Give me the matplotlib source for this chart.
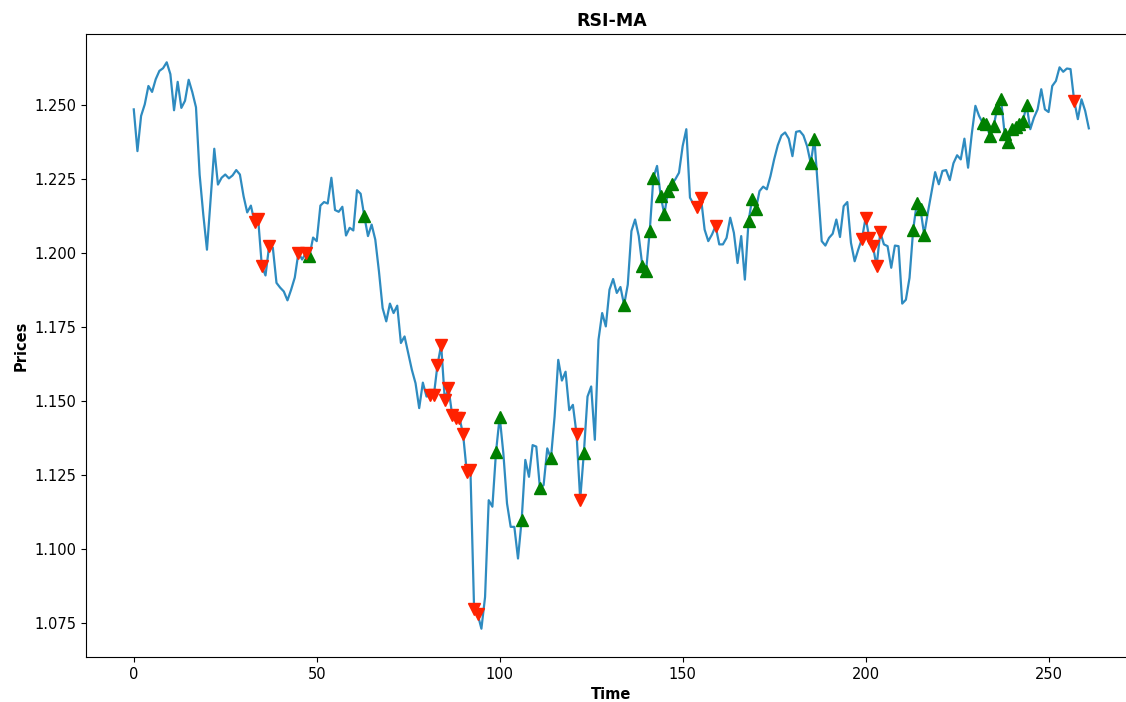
import matplotlib
matplotlib.use("Agg")
import matplotlib.pyplot as plt
import numpy as np

prices = [
    1.2486, 1.2345, 1.2464, 1.2503, 1.2565, 1.2545, 1.2588, 1.2616, 1.2625, 1.2645,  # 0-9
    1.2605, 1.2483, 1.2579, 1.2491, 1.2515, 1.2586, 1.2544, 1.2493, 1.2265, 1.2130,  # 10-19
    1.2012, 1.2182, 1.2353, 1.2232, 1.2255, 1.2266, 1.2253, 1.2263, 1.2281, 1.2266,  # 20-29
    1.2193, 1.2138, 1.2161, 1.2105, 1.2115, 1.1956, 1.1925, 1.2026, 1.2019, 1.1900,  # 30-39
    1.1884, 1.1871, 1.1841, 1.1877, 1.1918, 1.2002, 1.1979, 1.2000, 1.1990, 1.2053,  # 40-49
    1.2041, 1.2161, 1.2173, 1.2168, 1.2255, 1.2146, 1.2140, 1.2157, 1.2060, 1.2086,  # 50-59
    1.2077, 1.2213, 1.2201, 1.2125, 1.2058, 1.2097, 1.2046, 1.1939, 1.1815, 1.1770,  # 60-69
    1.1830, 1.1798, 1.1823, 1.1697, 1.1719, 1.1663, 1.1606, 1.1561, 1.1477, 1.1563,  # 70-79
    1.1516, 1.1520, 1.1520, 1.1623, 1.1690, 1.1505, 1.1545, 1.1455, 1.1442, 1.1445,  # 80-89
    1.1388, 1.1262, 1.1268, 1.0800, 1.0780, 1.0732, 1.0839, 1.1166, 1.1144, 1.1330,  # 90-99
    1.1448, 1.1324, 1.1155, 1.1076, 1.1076, 1.0969, 1.1099, 1.1302, 1.1245, 1.1352,  # 100-109
    1.1347, 1.1206, 1.1217, 1.1341, 1.1307, 1.1448, 1.1640, 1.1570, 1.1600, 1.1470,  # 110-119
    1.1488, 1.1390, 1.1168, 1.1326, 1.1516, 1.1550, 1.1370, 1.1708, 1.1798, 1.1753,  # 120-129
    1.1877, 1.1913, 1.1866, 1.1886, 1.1825, 1.1894, 1.2075, 1.2114, 1.2058, 1.1956,  # 130-139
    1.1939, 1.2075, 1.2255, 1.2295, 1.2193, 1.2131, 1.2210, 1.2233, 1.2250, 1.2272,  # 140-149
    1.2362, 1.2419, 1.2188, 1.2165, 1.2155, 1.2188, 1.2080, 1.2041, 1.2063, 1.2092,  # 150-159
    1.2030, 1.2030, 1.2052, 1.2120, 1.2069, 1.1967, 1.2058, 1.1911, 1.2108, 1.2184,  # 160-169
    1.2148, 1.2210, 1.2225, 1.2216, 1.2261, 1.2317, 1.2365, 1.2398, 1.2408, 1.2387,  # 170-179
    1.2328, 1.2410, 1.2413, 1.2398, 1.2362, 1.2304, 1.2387, 1.2216, 1.2041, 1.2026,  # 180-189
    1.2052, 1.2066, 1.2114, 1.2055, 1.2159, 1.2173, 1.2035, 1.1973, 1.2013, 1.2049,  # 190-199
    1.2120, 1.2052, 1.2024, 1.1956, 1.2071, 1.2030, 1.2024, 1.1951, 1.2026, 1.2024,  # 200-209
    1.1830, 1.1843, 1.1917, 1.2080, 1.2171, 1.2148, 1.2063, 1.2137, 1.2205, 1.2274,  # 210-219
    1.2233, 1.2278, 1.2281, 1.2247, 1.2304, 1.2331, 1.2317, 1.2387, 1.2289, 1.2402,  # 220-229
    1.2498, 1.2464, 1.2440, 1.2436, 1.2395, 1.2430, 1.2492, 1.2520, 1.2403, 1.2375,  # 230-239
    1.2419, 1.2428, 1.2438, 1.2448, 1.2500, 1.2419, 1.2458, 1.2486, 1.2554, 1.2486,  # 240-249
    1.2477, 1.2565, 1.2582, 1.2628, 1.2613, 1.2624, 1.2622, 1.2515, 1.2453, 1.2520,  # 250-259
    1.2481, 1.2422,                                                                  # 260-261
]

sell_idx = [33, 34, 35, 37, 45, 47, 81, 82, 83, 84, 85, 86, 87, 88, 89, 90, 91, 92,
            93, 94, 121, 122, 154, 155, 159, 199, 200, 201, 202, 203, 204, 257]
buy_idx = [48, 63, 99, 100, 106, 111, 114, 123, 134, 139, 140, 141, 142, 144, 145,
           146, 147, 168, 169, 170, 185, 186, 213, 214, 215, 216,
           232, 233, 234, 235, 236, 237, 238, 239, 240, 241, 242, 243, 244]

title = "RSI-MA"
xlabel = "Time"
ylabel = "Prices"

prices_arr = np.array(prices)
t = np.arange(len(prices_arr))

fig = plt.figure(figsize=(11.26, 7.02), dpi=100)
ax = fig.add_axes([0.0764, 0.0641, 0.9330, 0.8875])

ax.plot(t, prices_arr, color="#2e8bc0", linewidth=1.6, zorder=2)
ax.plot(t[buy_idx], prices_arr[buy_idx], linestyle="none", marker="^",
        color="green", markersize=8, zorder=3)
ax.plot(t[sell_idx], prices_arr[sell_idx], linestyle="none", marker="v",
        color="#ff2200", markersize=8, zorder=3)

ax.spines["right"].set_visible(False)
ax.set_title(title, fontsize=12.5, fontweight="bold")
ax.set_xlabel(xlabel, fontsize=10.5, fontweight="bold")
ax.set_ylabel(ylabel, fontsize=10.5, fontweight="bold")
ax.tick_params(labelsize=10.5)
ax.yaxis.set_major_formatter(matplotlib.ticker.FormatStrFormatter("%.3f"))

fig.savefig("out.png", dpi=100)
